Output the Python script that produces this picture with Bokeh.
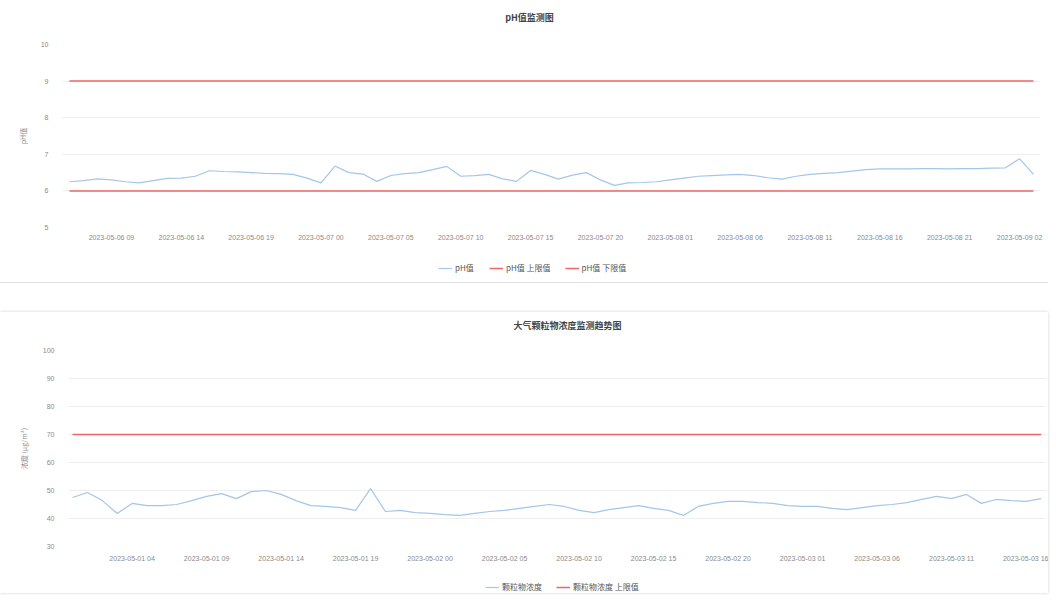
from bokeh.plotting import figure
from bokeh.models import Range1d, FixedTicker, Legend, LegendItem, Spacer, Label
from bokeh.layouts import column
from bokeh.embed import file_html
from bokeh.resources import INLINE

FONT = "Noto Sans CJK SC"

# ---------------- data: chart 1 (pH) ----------------
ph_title = "pH值监测图"
ph_axis_title = "pH值"
ph_series_name = "pH值"
ph_upper_name = "pH值 上限值"
ph_lower_name = "pH值 下限值"
ph_values = [
    6.25, 6.28, 6.33, 6.30, 6.25, 6.22, 6.28, 6.34, 6.35, 6.40,
    6.55, 6.53, 6.52, 6.50, 6.48, 6.47, 6.45, 6.35, 6.22, 6.68,
    6.50, 6.46, 6.26, 6.42, 6.47, 6.50, 6.58, 6.67, 6.40, 6.42,
    6.45, 6.33, 6.26, 6.56, 6.45, 6.32, 6.43, 6.50, 6.30, 6.15,
    6.22, 6.23, 6.25, 6.30, 6.35, 6.40, 6.42, 6.44, 6.45, 6.42,
    6.36, 6.32, 6.40, 6.45, 6.48, 6.50, 6.54, 6.58, 6.60, 6.60,
    6.60, 6.61, 6.61, 6.60, 6.61, 6.61, 6.62, 6.63, 6.88, 6.45,
]
ph_upper = 9
ph_lower = 6
ph_ticks = [5, 6, 7, 8, 9, 10]
ph_label_index = [3, 8, 13, 18, 23, 28, 33, 38, 43, 48, 53, 58, 63, 68]
ph_labels = [
    "2023-05-06 09", "2023-05-06 14", "2023-05-06 19", "2023-05-07 00",
    "2023-05-07 05", "2023-05-07 10", "2023-05-07 15", "2023-05-07 20",
    "2023-05-08 01", "2023-05-08 06", "2023-05-08 11", "2023-05-08 16",
    "2023-05-08 21", "2023-05-09 02",
]

# ---------------- data: chart 2 ----------------
pm_title = "大气颗粒物浓度监测趋势图"
pm_axis_title = "浓度 (μg/m³)"
pm_series_name = "颗粒物浓度"
pm_upper_name = "颗粒物浓度 上限值"
pm_values = [
    47.5, 49.3, 46.4, 41.8, 45.4, 44.6, 44.6, 45.0, 46.4, 47.9,
    48.9, 47.1, 49.6, 50.0, 48.6, 46.4, 44.6, 44.3, 43.9, 42.9,
    50.7, 42.5, 42.9, 42.1, 41.8, 41.4, 41.1, 41.8, 42.5, 42.9,
    43.6, 44.3, 45.0, 44.3, 42.9, 42.1, 43.2, 43.9, 44.6, 43.6,
    42.9, 41.1, 44.3, 45.4, 46.1, 46.1, 45.7, 45.4, 44.6, 44.3,
    44.3, 43.6, 43.2, 43.9, 44.6, 45.0, 45.7, 46.8, 47.9, 47.1,
    48.6, 45.4, 46.8, 46.4, 46.1, 47.1,
]
pm_upper = 70
pm_ticks = [30, 40, 50, 60, 70, 80, 90, 100]
pm_label_index = [4, 9, 14, 19, 24, 29, 34, 39, 44, 49, 54, 59, 64]
pm_labels = [
    "2023-05-01 04", "2023-05-01 09", "2023-05-01 14", "2023-05-01 19",
    "2023-05-02 00", "2023-05-02 05", "2023-05-02 10", "2023-05-02 15",
    "2023-05-02 20", "2023-05-03 01", "2023-05-03 06", "2023-05-03 11",
    "2023-05-03 16",
]

BLUE = "#a3c6e9"
RED = "#ee6666"
GRID = "#eeeeee"
TXT = "#8a8a8a"
W = 1048


def style(p, axis_title, ticks, label_index, labels, ylabel_standoff, xlabel_standoff):
    p.xgrid.visible = False
    p.ygrid.grid_line_color = GRID
    p.ygrid.ticker = FixedTicker(ticks=ticks)
    p.outline_line_color = None
    for ax in (p.xaxis[0], p.yaxis[0]):
        ax.axis_line_color = None
        ax.major_tick_line_color = None
        ax.minor_tick_line_color = None
        ax.major_label_text_font_size = "7px"
        ax.major_label_text_color = TXT
    p.yaxis[0].ticker = FixedTicker(ticks=ticks)
    p.yaxis[0].major_label_standoff = 8
    p.yaxis[0].axis_label = axis_title
    p.yaxis[0].axis_label_text_font = FONT
    p.yaxis[0].axis_label_text_font_size = "7px"
    p.yaxis[0].axis_label_text_font_style = "normal"
    p.yaxis[0].axis_label_text_color = TXT
    p.yaxis[0].axis_label_standoff = ylabel_standoff
    p.xaxis[0].ticker = FixedTicker(ticks=label_index)
    p.xaxis[0].major_label_overrides = {i: s for i, s in zip(label_index, labels)}
    p.xaxis[0].major_label_standoff = xlabel_standoff


def strip(height, x0, x1):
    s = figure(width=W, height=height, output_backend="svg", toolbar_location=None,
               x_range=Range1d(x0, x1), y_range=Range1d(0, height),
               x_axis_location=None, y_axis_location=None, min_border=0)
    s.grid.visible = False
    s.outline_line_color = None
    return s


def title_strip(height, x0, x1, text, cx, cy_from_top):
    s = strip(height, x0, x1)
    s.add_layout(Label(x=cx, y=height - cy_from_top, text=text,
                       text_align="center", text_baseline="middle",
                       text_font=FONT, text_font_size="9px",
                       text_font_style="bold", text_color="#444444"))
    return s


def legend_strip(height, x0, x1, entries, loc):
    s = strip(height, x0, x1)
    items = []
    for name, color, width in entries:
        r = s.line([x0 - 20, x0 - 10], [-10, -10], line_color=color, line_width=width)
        items.append(LegendItem(label=name, renderers=[r]))
    lg = Legend(items=items, orientation="horizontal", location=loc)
    lg.label_text_font = FONT
    lg.label_text_font_size = "8px"
    lg.label_text_color = "#555555"
    lg.border_line_color = None
    lg.background_fill_alpha = 0
    lg.glyph_width = 14
    lg.glyph_height = 8
    lg.label_height = 10
    lg.spacing = 14
    lg.padding = 2
    lg.margin = 0
    lg.label_standoff = 3
    s.add_layout(lg)
    return s


# ---------------- chart 1 ----------------
n1 = len(ph_values)
x1 = list(range(n1))
p1 = figure(width=W, height=214, output_backend="svg", toolbar_location=None,
            x_range=Range1d(-0.5, n1 - 0.5), y_range=Range1d(5, 10),
            min_border_left=62, min_border_right=8, min_border_top=6,
            min_border_bottom=25)
style(p1, ph_axis_title, ph_ticks, ph_label_index, ph_labels, 10, 0)
p1.line(x1, ph_values, line_color=BLUE, line_width=1.2)
p1.line(x1, [ph_upper] * n1, line_color=RED, line_width=1.5)
p1.line(x1, [ph_lower] * n1, line_color=RED, line_width=1.5)
hdr1 = title_strip(38, 62, 1040, ph_title, 529, 17)
leg1 = legend_strip(30, 62, 1040, [(ph_series_name, BLUE, 1.2),
                                   (ph_upper_name, RED, 1.5),
                                   (ph_lower_name, RED, 1.5)], (376, 9))
block1 = column(hdr1, p1, leg1, styles={"box-shadow": "0 1px 0 0 #e2e2e2"})

# ---------------- chart 2 ----------------
n2 = len(pm_values)
x2 = list(range(n2))
p2 = figure(width=W, height=224, output_backend="svg", toolbar_location=None,
            x_range=Range1d(-0.27, 65.37), y_range=Range1d(30, 100),
            min_border_left=68, min_border_right=2, min_border_top=6,
            min_border_bottom=22)
style(p2, pm_axis_title, pm_ticks, pm_label_index, pm_labels, 11, 2)
p2.line(x2, pm_values, line_color=BLUE, line_width=1.2)
p2.line(x2, [pm_upper] * n2, line_color=RED, line_width=1.5)
hdr2 = title_strip(32, 68, 1046, pm_title, 567, 13)
leg2 = legend_strip(25, 68, 1046, [(pm_series_name, BLUE, 1.2),
                                   (pm_upper_name, RED, 1.5)], (417, 1))
block2 = column(hdr2, p2, leg2, styles={"box-shadow": "0 0 3px 0 #cfcfcf"})

layout = column(block1, Spacer(height=30), block2)
open("out.html", "w").write(file_html(layout, INLINE))
